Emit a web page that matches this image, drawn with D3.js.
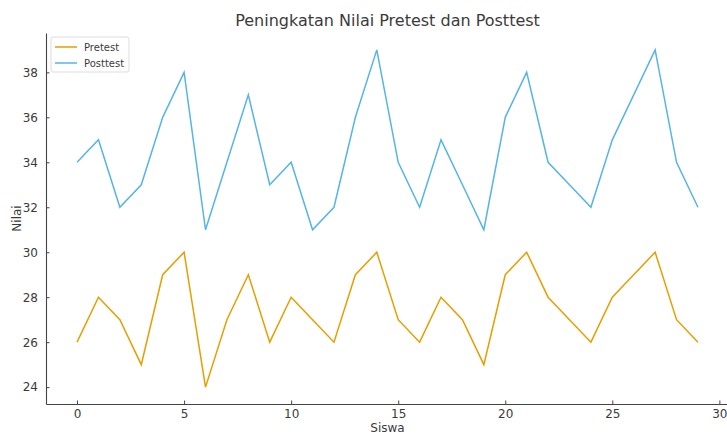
<!DOCTYPE html>
<html>
<head>
<meta charset="utf-8">
<script src="https://cdn.jsdelivr.net/npm/d3@7"></script>
<style>
  body { margin: 0; background: #fff; }
  svg { font-family: "DejaVu Sans", sans-serif; }
</style>
</head>
<body>
<div id="container"></div>
<script>
const siswa = d3.range(30);
const pretest = [26, 28, 27, 25, 29, 30, 24, 27, 29, 26, 28, 27, 26, 29, 30,
                 27, 26, 28, 27, 25, 29, 30, 28, 27, 26, 28, 29, 30, 27, 26];
const posttest = [34, 35, 32, 33, 36, 38, 31, 34, 37, 33, 34, 31, 32, 36, 39,
                  34, 32, 35, 33, 31, 36, 38, 34, 33, 32, 35, 37, 39, 34, 32];
const xTicks = [0, 5, 10, 15, 20, 25, 30];
const yTicks = [24, 26, 28, 30, 32, 34, 36, 38];
const series = [
    { name: 'Pretest', values: pretest, color: '#E69F00' },
    { name: 'Posttest', values: posttest, color: '#56B4E9' }
];

const width = 727;
const height = 435;
const m = { left: 46, right: -2, top: 33, bottom: 31 };

const svg = d3.select('#container').append('svg')
    .attr('width', width)
    .attr('height', height);

const x = d3.scaleLinear().domain([-1.45, 30.45]).range([m.left, width - m.right]);
const y = d3.scaleLinear().domain([23.25, 39.75]).range([height - m.bottom, m.top]);

const textColor = '#3b3b3b';

// axes (ticks pointing inward)
const xAxis = svg.append('g')
    .attr('transform', `translate(0 ${height - m.bottom})`)
    .call(d3.axisBottom(x).tickValues(xTicks).tickSizeInner(-3.5).tickSizeOuter(0).tickPadding(5));
const yAxis = svg.append('g')
    .attr('transform', `translate(${m.left} 0)`)
    .call(d3.axisLeft(y).tickValues(yTicks).tickSizeInner(-3.5).tickSizeOuter(0).tickPadding(8));

[xAxis, yAxis].forEach(a => {
    a.selectAll('.domain').attr('stroke', '#444').attr('stroke-width', 1.1);
    a.selectAll('.tick line').attr('stroke', '#444').attr('stroke-width', 1);
    a.selectAll('.tick text').attr('fill', textColor).style('font-size', '12px').style('font-family', '"DejaVu Sans", sans-serif');
});

const line = d3.line()
    .x((d, i) => x(siswa[i]))
    .y(d => y(d));

series.forEach(s => {
    svg.append('path')
        .datum(s.values)
        .attr('fill', 'none')
        .attr('stroke', s.color)
        .attr('stroke-width', 1.5)
        .attr('d', line);
});

// title and labels
svg.append('text')
    .text('Peningkatan Nilai Pretest dan Posttest')
    .attr('x', (m.left + width - m.right) / 2)
    .attr('y', 26)
    .attr('text-anchor', 'middle')
    .attr('fill', textColor)
    .style('font-size', '16px');

svg.append('text')
    .text('Siswa')
    .attr('x', (m.left + width - m.right) / 2)
    .attr('y', 432)
    .attr('text-anchor', 'middle')
    .attr('fill', textColor)
    .style('font-size', '12px');

svg.append('text')
    .text('Nilai')
    .attr('transform', `translate(21 ${(m.top + height - m.bottom) / 2}) rotate(-90)`)
    .attr('text-anchor', 'middle')
    .attr('fill', textColor)
    .style('font-size', '12px');

// legend
const lg = svg.append('g').attr('transform', 'translate(51 37)');
lg.append('rect')
    .attr('width', 78)
    .attr('height', 35)
    .attr('rx', 2)
    .attr('fill', '#fff')
    .attr('stroke', '#ddd');
series.forEach((s, i) => {
    lg.append('line')
        .attr('x1', 4).attr('x2', 26)
        .attr('y1', 10 + i * 16).attr('y2', 10 + i * 16)
        .attr('stroke', s.color)
        .attr('stroke-width', 1.5);
    lg.append('text')
        .text(s.name)
        .attr('x', 33)
        .attr('y', 10 + i * 16)
        .attr('dy', '0.35em')
        .attr('fill', textColor)
        .style('font-size', '10px');
});
</script>
</body>
</html>
